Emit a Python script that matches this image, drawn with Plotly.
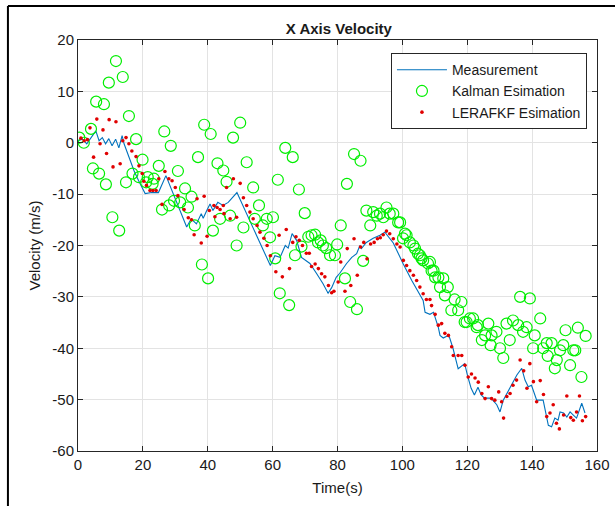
import plotly.graph_objects as go

# ---------------- data ----------------
meas_t = [0, 1.4, 2.7, 4.0, 5.5, 6.5, 7.5, 8.5, 9.5, 10.5, 11.6, 12.6, 13.6, 14.2, 17.3, 18.7, 20.7, 22.7,
          24.8, 27.1, 28.8, 31.2, 33.5, 34.9, 36.5, 38.0, 38.6, 39.7, 40.7, 41.6, 43.1, 44.7, 46.3, 49.0,
          53.0, 56.2, 59.3, 60.7, 62.3, 63.9, 64.8, 66.0, 67.4, 68.9, 71.5, 73.5, 75.5, 77.1, 78.2, 79.6,
          80.7, 82.8, 84.4, 85.9, 86.9, 87.4, 88.9, 91.0, 93.1, 94.6, 97.2, 100.2, 102.9, 106.4, 107.0,
          108.5, 109.6, 111.1, 111.6, 112.6, 114.1, 114.6, 115.6, 117.2, 119.2, 120.2, 121.2, 122.2, 123.3,
          124.3, 125.3, 127.3, 129.1, 130.1, 131.1, 133.1, 135.3, 136.8, 137.8, 138.8, 139.8, 141.4, 143.4,
          145.0, 146.0, 147.0, 148.0, 148.6, 149.7, 150.7, 151.7, 152.7, 153.7, 155.3, 156.3]
meas_v = [0.4, 0.7, -0.2, 1.0, 2.3, 0.4, 1.0, -0.2, 0.8, -0.6, 0.7, -1.0, 1.4, -0.2, -5.5, -7.4, -9.9,
          -9.7, -9.7, -6.4, -9.0, -12.8, -16.4, -14.8, -15.8, -13.8, -14.7, -13.2, -11.9, -13.2, -11.6,
          -12.2, -11.6, -9.7, -15.2, -19.7, -23.9, -22.0, -22.3, -20.0, -20.5, -17.7, -19.0, -22.3, -23.5,
          -25.4, -27.4, -29.3, -28.2, -26.2, -25.4, -23.5, -22.3, -21.6, -20.0, -20.6, -19.4, -18.6, -18.0,
          -17.4, -19.5, -23.5, -26.8, -30.7, -33.0, -33.4, -33.0, -36.0, -37.5, -38.0, -37.5, -38.0, -40.0,
          -44.0, -43.0, -45.6, -47.8, -49.1, -47.6, -49.1, -49.7, -49.7, -51.0, -52.4, -50.1, -47.8, -45.2,
          -43.9, -46.2, -47.5, -47.2, -50.1, -50.1, -55.0, -55.3, -53.6, -54.0, -52.4, -52.6, -53.4, -52.4,
          -53.0, -53.6, -50.7, -52.6]

kal_t = [0.4, 1.8, 4.0, 4.6, 5.6, 6.5, 8.0, 8.6, 9.5, 10.6, 11.7, 12.7, 13.8, 14.8, 15.7, 16.8, 17.9,
         18.8, 19.9, 21.0, 21.5, 23.0, 23.4, 24.9, 25.9, 26.6, 28.1, 28.6, 29.6, 30.8, 31.5, 33.0, 33.9,
         35.0, 36.0, 37.0, 38.2, 38.9, 40.1, 40.9, 41.6, 43.0, 43.8, 44.8, 45.8, 46.9, 47.8, 48.9, 50.0,
         51.0, 52.0, 54.0, 54.5, 55.8, 57.0, 58.2, 59.2, 60.1, 60.8, 61.6, 62.2, 63.9, 65.1, 66.2, 66.9,
         68.1, 68.9, 69.9, 71.0, 72.0, 73.1, 74.0, 74.8, 75.5, 76.5, 77.7, 79.2, 79.9, 81.0, 82.3, 82.9,
         83.9, 85.1, 86.0, 87.1, 87.9, 88.9, 90.1, 91.0, 92.1, 93.1, 94.1, 95.1, 96.1, 97.2, 98.7, 99.3,
         100.2, 100.8, 101.3, 102.3, 103.4, 103.9, 104.8, 105.4, 105.9, 106.4, 107.9, 108.5, 109.0, 109.6,
         110.1, 111.1, 111.6, 112.6, 113.1, 114.0, 115.1, 116.1, 117.2, 118.2, 119.2, 119.8, 120.8, 121.8,
         122.9, 123.3, 124.5, 125.5, 126.5, 127.2, 127.5, 129.0, 130.1, 131.1, 132.1, 133.1, 134.1, 135.7,
         136.3, 137.2, 138.3, 139.3, 140.3, 140.8, 142.5, 143.4, 144.5, 144.8, 146.0, 147.0, 147.6, 148.6,
         149.6, 150.3, 151.7, 152.7, 153.3, 154.1, 155.2, 156.5]
kal_v = [1.0, 0.0, 2.7, -5.0, 8.0, -6.0, 7.5, -8.1, 11.7, -14.5, 15.9, -17.1, 12.8, -7.7, 5.2, -6.0, 0.7,
         -6.7, -3.3, -7.7, -6.7, -8.0, -7.0, -4.5, -13.0, 2.2, -12.2, -0.6, -11.3, -5.5, -11.6, -8.9, -12.6,
         -10.5, -16.1, -2.8, -23.7, 3.5, -26.4, 1.7, -17.1, -4.0, -14.8, -5.4, -7.6, -14.2, 1.0, -20.0, 3.9,
         -16.5, -3.8, -8.7, -14.8, -12.2, -16.1, -14.8, -18.4, -14.5, -22.5, -7.2, -29.3, -1.0, -31.6, -2.8,
         -21.9, -9.1, -20.2, -13.7, -18.3, -18.0, -17.9, -19.4, -19.0, -20.0, -20.5, -21.9, -21.9, -19.8,
         -16.1, -26.4, -8.0, -31.0, -2.2, -32.4, -3.5, -23.0, -13.2, -16.1, -13.5, -14.2, -13.8, -14.5, -12.6,
         -13.8, -13.8, -15.5, -15.5, -18.6, -17.7, -18.0, -19.4, -20.0, -20.6, -21.6, -21.9, -22.5, -22.9,
         -23.5, -23.2, -24.9, -24.9, -26.2, -26.2, -28.1, -26.4, -29.7, -28.1, -32.6, -30.5, -32.6, -31.0,
         -34.9, -34.9, -34.2, -34.2, -35.9, -35.5, -38.4, -37.5, -35.2, -39.4, -37.5, -36.8, -40.0, -41.9,
         -35.2, -38.4, -34.6, -35.5, -30.0, -36.8, -35.9, -30.3, -40.0, -37.5, -34.2, -40.0, -39.0, -41.5,
         -39.0, -43.9, -42.3, -40.4, -39.4, -36.5, -43.3, -40.4, -40.4, -36.0, -45.6, -37.6]

lera_t = [0.9, 1.9, 2.9, 3.7, 4.8, 5.8, 6.8, 7.7, 8.8, 9.6, 10.8, 11.7, 13.0, 13.8, 14.8, 15.7, 16.6,
          17.9, 18.8, 19.8, 20.3, 21.1, 22.2, 23.1, 24.1, 24.9, 25.9, 26.8, 28.0, 29.0, 30.0, 30.8, 32.7,
          34.0, 35.0, 35.8, 36.7, 38.0, 38.9, 39.8, 40.5, 41.9, 42.2, 42.9, 43.8, 44.8, 45.0, 45.8, 46.9,
          47.9, 48.9, 50.0, 51.0, 52.0, 53.0, 54.0, 55.2, 56.1, 57.3, 58.3, 59.3, 61.0, 62.0, 63.0, 64.2,
          65.2, 66.2, 67.2, 68.2, 69.2, 70.4, 71.3, 72.0, 73.1, 74.1, 75.1, 76.1, 77.2, 78.2, 78.9, 80.2,
          81.0, 82.3, 83.0, 84.1, 85.1, 86.1, 87.1, 88.1, 89.1, 90.2, 91.3, 92.3, 93.2, 94.1, 95.1, 96.1,
          97.2, 98.3, 99.3, 100.3, 101.3, 102.3, 103.4, 104.4, 105.4, 106.4, 107.4, 108.5, 109.0, 110.1,
          111.1, 112.1, 113.1, 114.2, 115.2, 115.7, 117.2, 118.3, 119.3, 120.3, 121.3, 122.4, 123.4, 124.5,
          125.5, 126.5, 127.5, 128.5, 129.7, 130.6, 131.2, 132.2, 133.2, 134.1, 135.2, 136.3, 137.4, 138.4,
          139.3, 140.4, 141.4, 142.5, 143.5, 144.5, 145.5, 146.5, 147.5, 148.4, 149.7, 150.7, 151.9, 152.7,
          153.7, 154.6, 155.5, 156.5]
lera_v = [0.9, 0.4, 0.6, 2.9, -2.8, 4.6, -0.2, 2.5, -2.1, 4.5, -4.7, 4.1, -4.1, 0.4, 1.0, -0.2, -1.6,
          -2.7, -4.5, -6.0, -7.5, -8.3, -9.3, -9.3, -9.3, -7.0, -12.0, -5.6, -7.0, -7.4, -8.7, -10.3, -13.0,
          -14.6, -15.0, -17.9, -10.9, -19.5, -10.4, -18.2, -13.2, -12.2, -14.4, -12.6, -13.0, -12.2, -13.8,
          -8.7, -14.8, -7.0, -14.5, -7.9, -10.7, -12.2, -13.5, -14.8, -16.1, -17.4, -18.6, -20.0, -22.0,
          -25.1, -18.0, -26.1, -16.9, -24.5, -19.4, -18.3, -19.0, -20.0, -21.5, -21.5, -24.1, -23.6, -24.5,
          -25.5, -26.1, -27.8, -29.2, -28.9, -27.1, -23.2, -28.9, -20.6, -27.8, -18.7, -25.8, -20.3, -19.4,
          -22.6, -19.7, -19.4, -18.7, -18.5, -17.9, -17.2, -17.7, -18.7, -19.7, -20.3, -22.9, -23.9, -24.9,
          -25.8, -26.8, -28.1, -29.4, -30.5, -30.5, -31.7, -33.4, -35.5, -35.2, -37.1, -37.5, -39.7, -41.4,
          -41.4, -41.4, -43.3, -45.6, -45.0, -45.8, -46.6, -48.8, -49.8, -47.5, -49.8, -50.1, -48.5, -50.4,
          -53.6, -49.4, -48.8, -47.2, -46.2, -42.3, -44.4, -47.8, -43.0, -46.5, -50.4, -46.3, -49.0, -53.3,
          -52.6, -51.0, -54.6, -55.7, -53.0, -49.3, -53.5, -54.0, -52.4, -49.3, -54.1, -53.3]

x_ticks = [0, 20, 40, 60, 80, 100, 120, 140, 160]
y_ticks = [20, 10, 0, -10, -20, -30, -40, -50, -60]
y_tick_text = ["20", "10", "0", "-10", "-20", "-30", "-40", "-50", "-60"]

# ---------------- figure ----------------
FONT = "Liberation Sans, Arial, sans-serif"
AX = "#262626"
TXT = "#1a1a1a"

fig = go.Figure()
fig.add_trace(go.Scatter(x=meas_t, y=meas_v, mode="lines", name="Measurement",
                         line=dict(color="#0072BD", width=1.1)))
fig.add_trace(go.Scatter(x=kal_t, y=kal_v, mode="markers", name="Kalman Esimation",
                         marker=dict(symbol="circle-open", size=11, color="#00EE00",
                                     line=dict(width=1.2, color="#00EE00"))))
fig.add_trace(go.Scatter(x=lera_t, y=lera_v, mode="markers", name="LERAFKF Esimation",
                         marker=dict(symbol="circle", size=3.6, color="#E00000")))

axis_common = dict(showgrid=True, gridcolor="#E3E3E3", gridwidth=1, zeroline=False,
                   showline=True, linecolor=AX, linewidth=1, mirror="ticks",
                   ticks="inside", ticklen=5, tickcolor=AX, tickwidth=1, automargin=False,
                   ticklabeloverflow="allow",
                   tickfont=dict(family=FONT, size=15, color=TXT))

fig.update_xaxes(range=[0, 160], tickvals=x_ticks, ticktext=[str(v) for v in x_ticks],
                 title=dict(text="Time(s)", font=dict(family=FONT, size=15, color=TXT), standoff=10),
                 **axis_common)
fig.update_yaxes(range=[-60, 20], tickvals=y_ticks, ticktext=y_tick_text,
                 title=dict(text="Velocity (m/s)", font=dict(family=FONT, size=15, color=TXT), standoff=8),
                 **axis_common)

fig.update_layout(
    width=615, height=506,
    margin=dict(l=78, r=18, t=40, b=55),
    paper_bgcolor="white", plot_bgcolor="white",
    title=dict(text="<b>X Axis Velocity</b>", x=0.551, xanchor="center", y=0.944, yanchor="middle",
               font=dict(family=FONT, size=15, color=TXT)),
    legend=dict(x=0.603, xanchor="left", y=0.968, yanchor="top",
                bgcolor="white", bordercolor=AX, borderwidth=1,
                font=dict(family=FONT, size=14, color=TXT),
                itemwidth=50, tracegroupgap=0),
    showlegend=True,
    shapes=[
        dict(type="line", xref="paper", yref="paper", x0=-0.135, x1=1.04, y0=1.083, y1=1.083,
             line=dict(color="black", width=2)),
        dict(type="line", xref="paper", yref="paper", x0=-0.135, x1=-0.135, y0=1.083, y1=-0.14,
             line=dict(color="black", width=2)),
    ],
)

fig.write_html("out.html")
